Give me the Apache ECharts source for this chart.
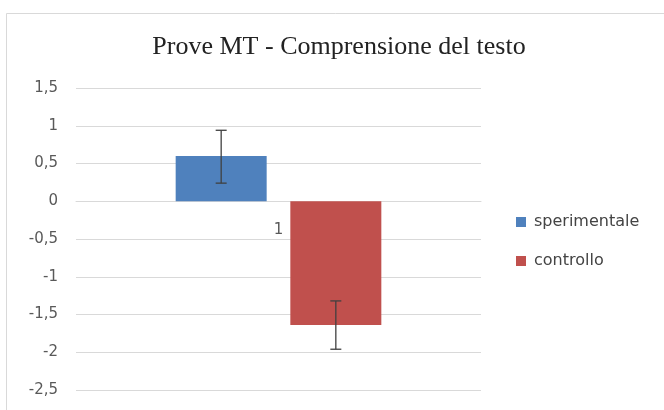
<!DOCTYPE html>
<html>
<head>
<meta charset="utf-8">
<script src="https://cdn.jsdelivr.net/npm/echarts@6/dist/echarts.min.js"></script>
<style>
  html, body { margin: 0; padding: 0; background: #fff; }
  #chart { width: 664px; height: 410px; }
</style>
</head>
<body>
<div id="chart"></div>
<script>
  // dati
  const categories = ['1'];
  const seriesNames = ['sperimentale', 'controllo'];
  const seriesColors = ['#4f81bd', '#c0504d'];
  const means = [0.6, -1.64];
  const errLow = [0.24, -1.96];
  const errHigh = [0.94, -1.32];
  const yMin = -2.5, yMax = 1.5, yStep = 0.5;

  const barW = 91;
  const barGapPct = 26; // %

  const chart = echarts.init(document.getElementById('chart'));

  const barSeries = seriesNames.map((name, i) => ({
    name: name,
    type: 'bar',
    data: [means[i]],
    barWidth: barW,
    barGap: barGapPct + '%',
    itemStyle: { color: seriesColors[i] },
    z: 2,
  }));

  // barre di errore
  const errSeries = {
    type: 'custom',
    name: 'err',
    data: seriesNames.map((n, i) => [0, errLow[i], errHigh[i], i]),
    z: 5,
    silent: true,
    renderItem: (params, api) => {
      const idx = api.value(3);
      const gap = barW * barGapPct / 100;
      const offset = (idx - 0.5) * (barW + gap);
      const lo = api.coord([api.value(0), api.value(1)]);
      const hi = api.coord([api.value(0), api.value(2)]);
      const x = lo[0] + offset;
      const cap = 5.5;
      const style = { stroke: '#404040', lineWidth: 1.3 };
      return {
        type: 'group',
        children: [
          { type: 'line', shape: { x1: x, y1: lo[1], x2: x, y2: hi[1] }, style },
          { type: 'line', shape: { x1: x - cap, y1: lo[1], x2: x + cap, y2: lo[1] }, style },
          { type: 'line', shape: { x1: x - cap, y1: hi[1], x2: x + cap, y2: hi[1] }, style },
        ],
      };
    },
  };

  const option = {
    backgroundColor: '#fff',
    animation: false,
    title: {
      text: 'Prove MT - Comprensione del testo',
      left: 334,
      textAlign: 'center',
      top: 29,
      textStyle: {
        fontFamily: 'Liberation Serif',
        fontWeight: 'normal',
        fontSize: 26,
        color: '#222',
      },
    },
    legend: {
      data: seriesNames,
      orient: 'vertical',
      left: 511,
      top: 209,
      itemWidth: 10,
      itemHeight: 10,
      itemGap: 23,
      icon: 'rect',
      textStyle: { fontFamily: 'DejaVu Sans', fontSize: 16, color: '#444', padding: [0, 0, 0, 3] },
    },
    grid: { left: 76, right: 183, top: 88, bottom: 20, outerBoundsMode: 'none' },
    xAxis: {
      type: 'category',
      data: categories,
      axisLine: { onZero: false, lineStyle: { color: '#d9d9d9' } },
      axisTick: { show: false },
      axisLabel: { fontFamily: 'DejaVu Sans', fontSize: 15, color: '#595959', margin: 21 },
    },
    yAxis: {
      type: 'value',
      min: yMin,
      max: yMax,
      interval: yStep,
      axisLine: { show: false },
      axisTick: { show: false },
      splitLine: { lineStyle: { color: '#d9d9d9' } },
      axisLabel: {
        fontFamily: 'DejaVu Sans',
        fontSize: 15,
        color: '#595959',
        margin: 18,
        formatter: (v) => String(v).replace('.', ','),
      },
    },
    graphic: [
      {
        type: 'polyline',
        shape: { points: [[6.5, 420], [6.5, 13.5], [670, 13.5]] },
        style: { stroke: '#d9d9d9', fill: null, lineWidth: 1 },
      },
    ],
    series: [...barSeries, errSeries],
  };

  chart.setOption(option);

  // asse delle categorie sullo zero (come in Excel)
  const yZero = chart.convertToPixel({ yAxisIndex: 0 }, 0);
  const yBottom = chart.convertToPixel({ yAxisIndex: 0 }, yMin);
  chart.setOption({ xAxis: { offset: yZero - yBottom } });
</script>
</body>
</html>
